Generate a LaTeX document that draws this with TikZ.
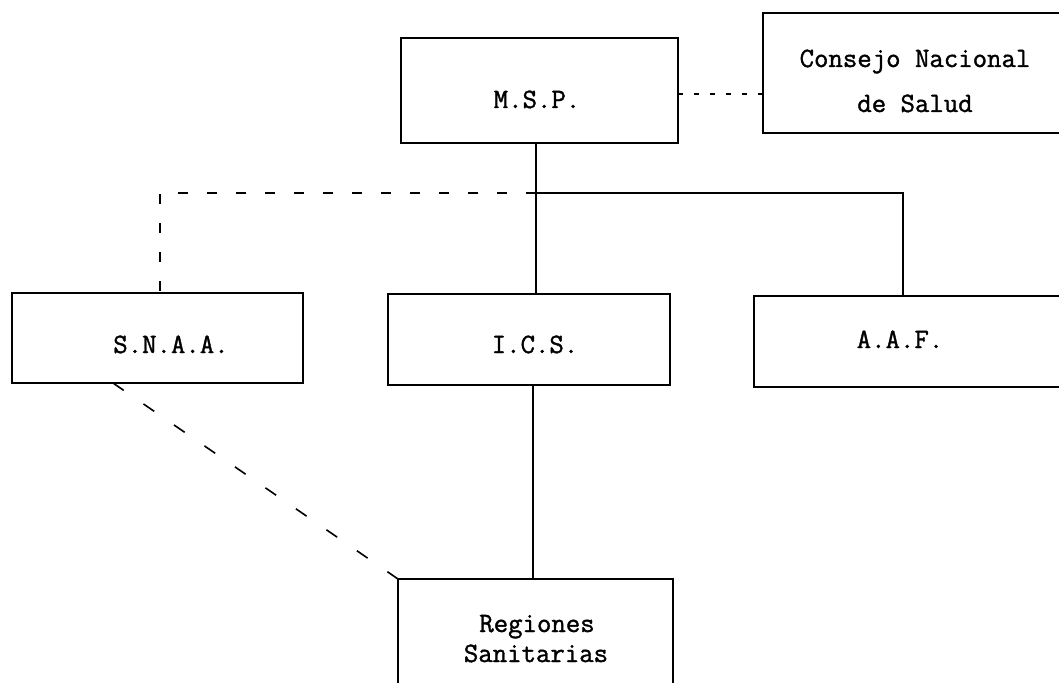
\documentclass[tikz,border=0pt]{standalone}
\usepackage{fontspec}
\newfontfamily\twfont[FakeBold=1.3]{Latin Modern Mono}
\begin{document}
\begin{tikzpicture}[x=1pt,y=-1pt,
  box/.style={draw, line width=1.5pt, rectangle, inner sep=0pt, outer sep=0pt},
  lbl/.style={font=\twfont\fontsize{28}{32}\selectfont, anchor=base, inner sep=0pt},
  solidline/.style={line width=1.6pt},
  dashline/.style={line width=1.6pt, dash pattern=on 10pt off 19pt},
  diagline/.style={line width=1.6pt, dash pattern=on 13pt off 24pt},
  dotline/.style={line width=1.6pt, dash pattern=on 5pt off 11pt}]
\clip (0,0) rectangle (1059,682);
% boxes
\node[box, minimum width=277pt, minimum height=105pt] (msp) at (539.5,90.5) {};
\node[box, minimum width=320pt, minimum height=120pt] (cns) at (923,73) {};
\node[box, minimum width=291pt, minimum height=90pt] (snaa) at (157.5,338) {};
\node[box, minimum width=282pt, minimum height=91pt] (ics) at (529,339.5) {};
\node[box, minimum width=320pt, minimum height=91pt] (aaf) at (914,341.5) {};
\node[box, minimum width=275pt, minimum height=130pt] (reg) at (535.5,644) {};
% labels
\node[lbl] (tmsp) at (537,108) {M.S.P.};
\node[lbl] (tcns1) at (915,67) {Consejo Nacional};
\node[lbl] (tcns2) at (915,112) {de Salud};
\node[lbl] (tsnaa) at (171,353) {S.N.A.A.};
\node[lbl] (tics) at (535,353) {I.C.S.};
\node[lbl] (taaf) at (900,348) {A.A.F.};
\node[lbl] (treg1) at (537,632) {Regiones};
\node[lbl] (treg2) at (536,662) {Sanitarias};
% junctions
\coordinate (j) at (536,193);
\coordinate (jr) at (903,193);
\coordinate (jl) at (160,193);
\coordinate (jd) at (533,400);
\coordinate (sd) at (113,383);
% connectors
\draw[solidline] (msp.south -| j) -- (ics.north -| j);
\draw[solidline] (j) -- (jr) -- (aaf.north -| jr);
\draw[dashline] (j) -- (jl) -- (snaa.north -| jl);
\draw[dotline] (msp.east |- 0,94) -- (cns.west |- 0,94);
\draw[solidline] (ics.south -| jd) -- (reg.north -| jd);
\draw[diagline] (snaa.south -| sd) -- (reg.north west);
\end{tikzpicture}
\end{document}
